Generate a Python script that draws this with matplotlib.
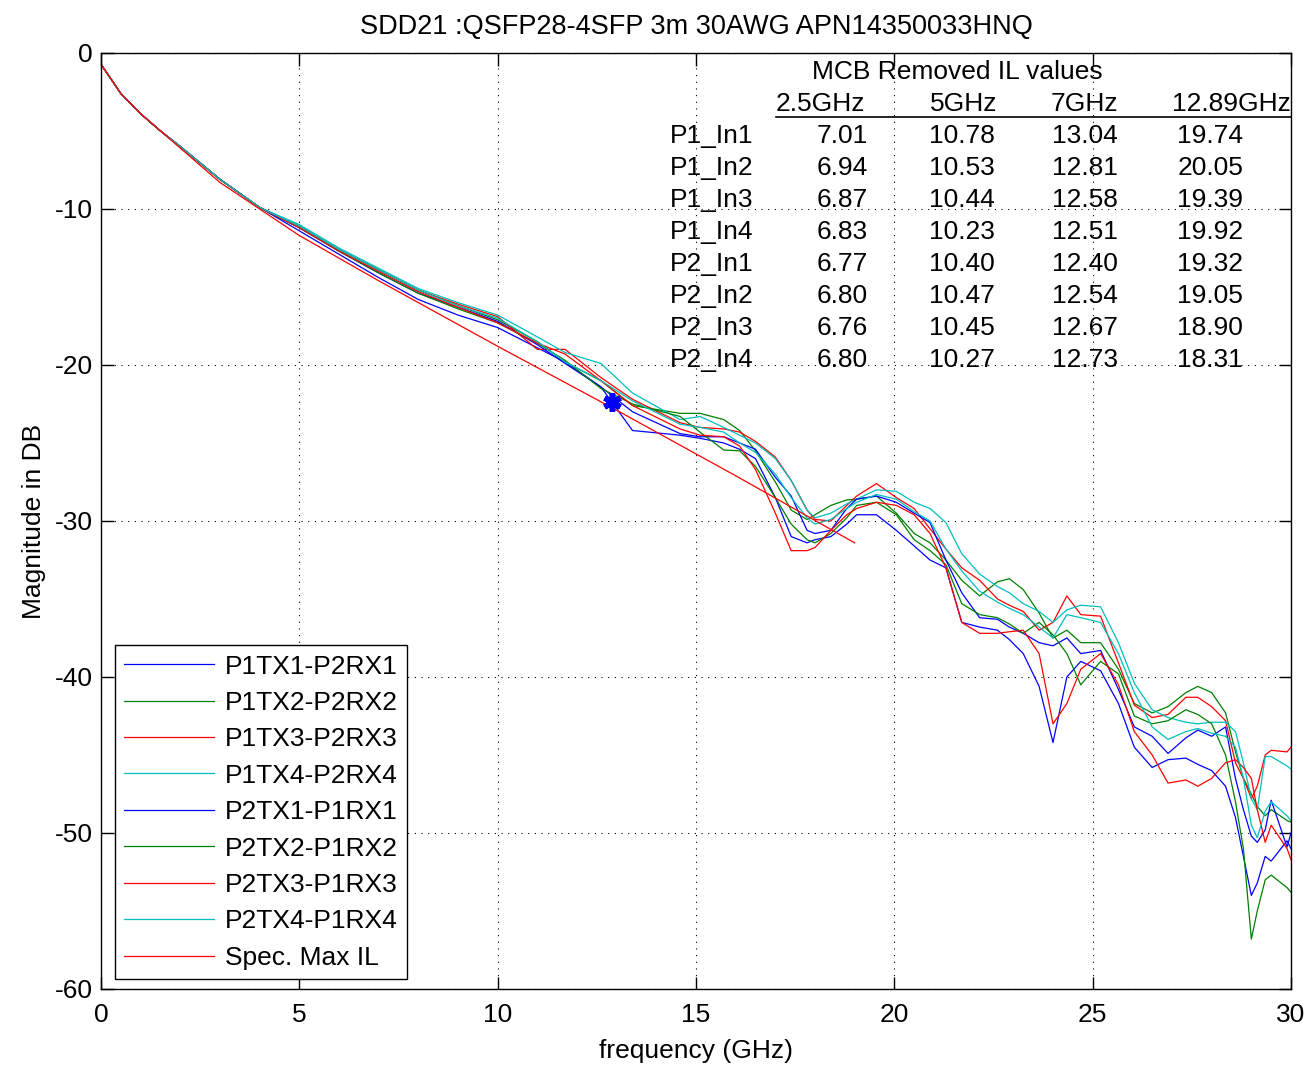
import matplotlib
matplotlib.use("Agg")
import matplotlib.pyplot as plt

plt.rcParams["font.family"] = ["Liberation Sans", "DejaVu Sans"]
plt.rcParams["axes.unicode_minus"] = False

# shared frequency grid (GHz)
freq = [0.02, 0.5, 1, 1.5, 2, 3, 4, 5, 6, 7, 8, 9, 10, 11, 11.7, 12.6, 13.4, 14.6, 15.1,
        15.7, 16.1, 16.5, 17.0, 17.4, 17.8, 18.0, 18.4, 18.8, 19.05, 19.55, 20.05, 20.5,
        20.9, 21.3, 21.7, 22.15, 22.6, 22.9, 23.25, 23.65, 24.0, 24.35, 24.7, 25.2, 25.65,
        26.05, 26.5, 26.9, 27.35, 27.65, 28.0, 28.35, 28.6, 28.8, 29.0, 29.15, 29.35, 29.5,
        29.9, 30.0]

start = [-0.8, -2.6, -3.9, -5.0, -6.0, -8.1, -9.9]

p1tx1 = start + [-11.4, -12.9, -14.4, -15.8, -16.8, -17.6, -18.9, -19.8, -21.4, -24.2, -24.5,
                 -24.7, -25.0, -25.4, -26.0, -28.5, -31.0, -31.4, -31.2, -31.0, -30.2, -29.6,
                 -29.6, -30.6, -31.6, -32.5, -33.0, -36.5, -36.8, -37.0, -37.6, -38.5, -40.6,
                 -44.2, -40.0, -39.0, -39.6, -41.7, -44.5, -45.8, -45.3, -45.2, -45.6, -46.0,
                 -47.0, -49.0, -51.5, -54.0, -53.2, -51.5, -51.8, -50.5, -51.0]
p1tx2 = start + [-11.1, -12.6, -13.9, -15.2, -16.2, -17.1, -18.5, -19.8, -21.0, -22.6, -23.1,
                 -23.1, -23.5, -24.2, -25.5, -27.5, -29.3, -29.9, -29.6, -29.0, -28.65, -28.6,
                 -28.4, -29.5, -30.8, -31.4, -32.5, -33.8, -34.8, -33.9, -33.7, -34.4, -35.9,
                 -37.5, -37.0, -37.8, -37.8, -39.5, -41.7, -42.3, -41.9, -41.0, -40.6, -41.0,
                 -42.3, -44.8, -46.5, -47.5, -48.3, -48.9, -48.5, -49.2, -49.3]
p1tx3 = start + [-11.1, -12.6, -13.9, -15.2, -16.1, -16.9, -19.0, -19.0, -20.8, -22.2, -23.7,
                 -24.0, -24.1, -24.3, -24.9, -25.9, -27.4, -29.3, -29.9, -30.0, -29.0, -28.4,
                 -27.6, -28.5, -29.2, -30.5, -31.8, -33.0, -33.8, -35.0, -35.4, -35.8, -37.0,
                 -36.5, -34.8, -36.0, -36.1, -39.1, -41.8, -42.6, -42.4, -41.3, -41.3, -41.9,
                 -42.8, -45.5, -46.5, -47.8, -47.0, -45.0, -44.7, -44.8, -44.5]
p1tx4 = start + [-11.0, -12.5, -13.8, -15.1, -16.0, -16.8, -18.2, -19.2, -19.9, -21.8, -23.5,
                 -23.3, -24.0, -24.5, -25.0, -26.0, -27.4, -29.3, -29.8, -29.5, -28.9, -28.6,
                 -28.0, -28.1, -28.8, -29.2, -30.1, -32.1, -33.4, -34.2, -34.6, -35.3, -35.8,
                 -36.5, -35.7, -35.4, -35.5, -37.8, -40.4, -42.1, -42.6, -42.9, -43.0, -42.9,
                 -42.9, -43.5, -45.5, -47.8, -48.5, -45.1, -45.1, -45.7, -45.9]
p2tx1 = start + [-11.2, -12.7, -14.1, -15.4, -16.3, -17.2, -18.7, -19.9, -21.4, -23.0, -24.4,
                 -24.6, -24.6, -25.0, -25.4, -27.2, -28.4, -30.6, -30.8, -30.6, -29.2, -28.6,
                 -28.4, -28.8, -29.5, -30.1, -32.5, -34.6, -36.2, -36.3, -36.8, -37.2, -37.8,
                 -38.0, -37.5, -38.5, -38.3, -40.8, -43.2, -43.8, -44.9, -43.9, -43.4, -43.8,
                 -43.2, -46.5, -48.5, -50.2, -50.6, -49.8, -47.9, -50.9, -50.0]
p2tx2 = start + [-11.2, -12.7, -14.1, -15.4, -16.4, -17.3, -18.6, -19.7, -21.5, -22.5, -23.3,
                 -24.3, -25.45, -25.5, -26.5, -28.5, -30.2, -31.2, -31.4, -30.8, -29.8, -29.0,
                 -28.8, -29.6, -31.2, -31.9, -32.8, -35.3, -36.0, -36.2, -36.6, -37.2, -36.5,
                 -37.3, -38.5, -40.5, -39.0, -39.8, -42.5, -43.0, -42.8, -42.1, -42.4, -43.0,
                 -45.0, -48.0, -51.0, -56.8, -55.0, -53.0, -52.7, -53.5, -53.8]
p2tx3 = start + [-11.2, -12.7, -14.0, -15.3, -16.3, -17.3, -18.6, -19.3, -21.0, -22.6, -24.1,
                 -24.5, -24.6, -25.2, -26.7, -29.5, -31.9, -31.9, -31.7, -30.6, -29.6, -29.2,
                 -28.8, -29.0, -29.6, -30.8, -33.0, -36.5, -37.2, -37.2, -37.1, -37.0, -38.5,
                 -43.0, -41.7, -39.5, -38.5, -40.5, -43.5, -45.0, -46.8, -46.6, -47.0, -46.5,
                 -45.5, -45.3, -45.8, -46.5, -48.5, -50.6, -49.5, -51.0, -51.7]
p2tx4 = start + [-11.1, -12.6, -13.9, -15.2, -16.2, -17.0, -18.5, -19.8, -21.0, -22.3, -23.8,
                 -24.0, -24.3, -25.0, -25.6, -27.0, -28.5, -29.8, -30.2, -29.9, -29.2, -28.8,
                 -28.3, -28.6, -29.4, -30.0, -31.8, -33.2, -34.5, -35.2, -35.6, -36.0, -36.8,
                 -37.5, -36.0, -36.2, -36.5, -38.5, -41.0, -43.2, -44.0, -43.5, -43.3, -43.6,
                 -43.8, -44.5, -46.5, -49.5, -50.3, -48.6, -48.0, -48.9, -49.2]

spec_freq = [0.02, 0.5, 1, 1.5, 2, 3, 4, 5, 7, 10, 13, 16, 19]
spec_il = [-0.8, -2.6, -3.9, -5.0, -6.1, -8.3, -10.0, -11.7, -14.6, -18.8, -22.9, -27.1, -31.4]

marker_f, marker_db = 12.89, -22.4

labels = ["P1TX1-P2RX1", "P1TX2-P2RX2", "P1TX3-P2RX3", "P1TX4-P2RX4",
          "P2TX1-P1RX1", "P2TX2-P1RX2", "P2TX3-P1RX3", "P2TX4-P1RX4", "Spec. Max IL"]
colors = ["#0000ff", "#008000", "#ff0000", "#00bfbf"] * 2 + ["#ff0000"]

row_labels = ["P1_In1", "P1_In2", "P1_In3", "P1_In4", "P2_In1", "P2_In2", "P2_In3", "P2_In4"]
col_labels = ["2.5GHz", "5GHz", "7GHz", "12.89GHz"]
il_values = [
    ["7.01", "10.78", "13.04", "19.74"],
    ["6.94", "10.53", "12.81", "20.05"],
    ["6.87", "10.44", "12.58", "19.39"],
    ["6.83", "10.23", "12.51", "19.92"],
    ["6.77", "10.40", "12.40", "19.32"],
    ["6.80", "10.47", "12.54", "19.05"],
    ["6.76", "10.45", "12.67", "18.90"],
    ["6.80", "10.27", "12.73", "18.31"],
]

FS = 19

fig = plt.figure(figsize=(13.09, 10.65), dpi=100)
ax = fig.add_axes([101 / 1309, 1 - 989 / 1065, 1190 / 1309, 936 / 1065])

traces = [p1tx1, p1tx2, p1tx3, p1tx4, p2tx1, p2tx2, p2tx3, p2tx4]
for vals, c, lab in zip(traces, colors, labels):
    ax.plot(freq, vals, color=c, linewidth=0.9, label=lab)
ax.plot(spec_freq, spec_il, color=colors[-1], linewidth=0.9, label=labels[-1])
ax.plot([marker_f], [marker_db], marker=(6, 2, 0), color="#0000ff", markersize=13,
        markeredgewidth=4, linestyle="none")

ax.set_xlim(0, 30)
ax.set_ylim(-60, 0)
ax.set_xticks(range(0, 31, 5))
ax.set_yticks(range(-60, 1, 10))
ax.grid(True, color="black", linestyle=(0, (1, 5)), linewidth=0.8)
ax.tick_params(direction="in", length=9, width=1, top=True, right=True, labelsize=FS)
ax.tick_params(axis="x", pad=10)
ax.tick_params(axis="y", pad=6)
for s in ax.spines.values():
    s.set_linewidth(1)
ax.set_title("SDD21 :QSFP28-4SFP 3m 30AWG APN14350033HNQ", fontsize=FS + 0.5, pad=14)
ax.set_xlabel("frequency (GHz)", fontsize=FS, labelpad=9)
ax.set_ylabel("Magnitude in DB", fontsize=FS, labelpad=6)

# IL table drawn as text
ax.text(21.58, -1.22, "MCB Removed IL values", fontsize=FS, ha="center", va="center")
header_x = [18.13, 21.75, 24.8, 28.49]
for x, lab in zip(header_x, col_labels):
    ax.text(x, -3.27, lab, fontsize=FS, ha="center", va="center")
ax.plot([17.02, 30], [-4.1, -4.1], color="black", linewidth=1.2)
value_x = [19.33, 22.54, 25.64, 28.79]
for i, (rl, row) in enumerate(zip(row_labels, il_values)):
    y = -5.32 - 2.05 * i
    ax.text(14.34, y, rl, fontsize=FS, ha="left", va="center")
    for x, v in zip(value_x, row):
        ax.text(x, y, v, fontsize=FS, ha="right", va="center")

leg = ax.legend(loc="lower left", bbox_to_anchor=(0.0118, 0.0107), borderaxespad=0,
                fontsize=FS, handlelength=3.4, labelspacing=0.47, handletextpad=0.4,
                fancybox=False, framealpha=1, edgecolor="black", borderpad=0.35)
leg.get_frame().set_linewidth(1)

fig.savefig("out.png", dpi=100)
